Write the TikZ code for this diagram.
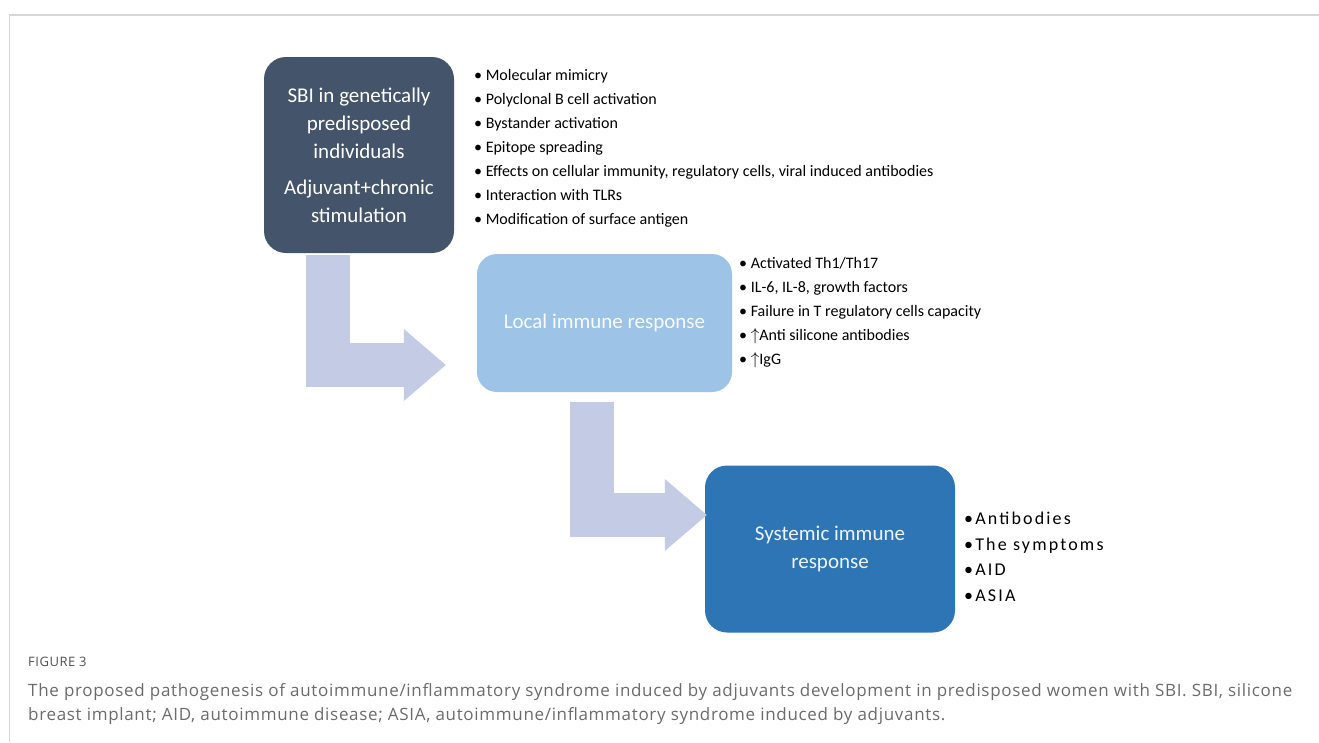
\documentclass[tikz,border=0pt]{standalone}
\usepackage{fontspec}
\setmainfont{Carlito}
\newfontfamily\spacedfont[LetterSpace=12]{Carlito}
\newfontfamily\capfont[LetterSpace=4]{Open Sans}
\usepackage{tikz}
\usetikzlibrary{arrows.meta}

\definecolor{sbidark}{HTML}{44546A}
\definecolor{localblue}{HTML}{9DC3E6}
\definecolor{systblue}{HTML}{2E75B6}
\definecolor{flowgrey}{HTML}{C3CBE5}
\definecolor{capgrey}{HTML}{6B6B6B}
\definecolor{framegrey}{HTML}{D6D6D6}

\tikzset{
  stagebox/.style={rectangle, rounded corners=22pt, align=center, inner sep=0pt,
    font=\fontsize{21}{28}\selectfont},
  flowarrow/.style={draw=flowgrey, line width=44pt, line join=miter,
    -{Triangle[length=42pt 0 0, width=72pt 0 0, line width=0pt 0 0]}},
  entry/.style={anchor=base west, inner sep=0pt}
}

\begin{document}
\begin{tikzpicture}[x=1pt, y=-1pt]
\useasboundingbox (0,0) rectangle (1319,742);
\draw[framegrey, line width=1.5pt] (9.5,742) -- (9.5,15) -- (1319,15);

% the three stages
\node[stagebox, fill=sbidark, text=white, minimum width=190pt, minimum height=196pt] (sbi) at (359,155)
  {SBI in genetically\\ predisposed\\ individuals\\[8pt] Adjuvant+chronic\\ stimulation};
\node[stagebox, fill=localblue, text=white!94!localblue, minimum width=255pt, minimum height=138pt,
  rounded corners=20pt] (local) at (604.5,323) {Local immune response};
\node[stagebox, fill=systblue, text=white!92!systblue, minimum width=250pt, minimum height=167pt] (systemic) at (830,549)
  {Systemic immune\\ response};

% block arrows
\draw[flowarrow] ([xshift=-31.5pt, yshift=-2pt]sbi.south) |- ([xshift=-31pt, yshift=-42pt]local.west);
\draw[flowarrow] ([xshift=-12.5pt, yshift=-10pt]local.south) |- ([xshift=2pt, yshift=34pt]systemic.west);

% mechanisms
\foreach \entrytext [count=\n] in {Molecular mimicry, Polyclonal B cell activation, Bystander activation,
    Epitope spreading, {Effects on cellular immunity, regulatory cells, viral induced antibodies},
    Interaction with TLRs, Modification of surface antigen}
  \node[entry, font=\fontsize{16}{18}\selectfont] (mech\n) at (474,{56+24*\n}) {\textbullet\ \entrytext};

% local findings
\foreach \entrytext [count=\n] in {Activated Th1/Th17, {IL-6, IL-8, growth factors},
    Failure in T regulatory cells capacity, $\uparrow$Anti silicone antibodies, $\uparrow$IgG}
  \node[entry, font=\fontsize{16}{18}\selectfont] (loc\n) at (739,{244+24*\n}) {\textbullet\ \entrytext};

% systemic findings
\foreach \entrytext [count=\n] in {Antibodies, The symptoms, AID, ASIA}
  \node[entry, font=\spacedfont\fontsize{18}{20}\selectfont] (sys\n) at (964,{498.8+25.7*\n}) {\textbullet\entrytext};

% caption
\node[entry, font=\capfont\fontsize{13}{15}\selectfont, text=capgrey!75!black] (figlabel) at (28,666) {FIGURE 3};
\node[entry, font=\capfont\fontsize{17}{24}\selectfont, text=capgrey, align=left] (caption) at (28,720)
  {The proposed pathogenesis of autoimmune/inflammatory syndrome induced by adjuvants development in predisposed women with SBI. SBI, silicone\\
   breast implant; AID, autoimmune disease; ASIA, autoimmune/inflammatory syndrome induced by adjuvants.};
\end{tikzpicture}
\end{document}
